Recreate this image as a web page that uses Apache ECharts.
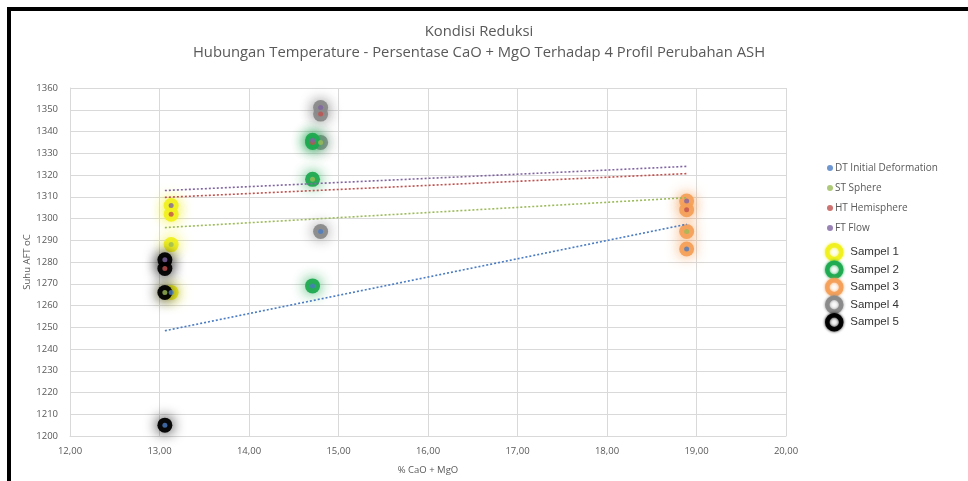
<!DOCTYPE html>
<html>
<head>
<meta charset="utf-8">
<script src="https://cdn.jsdelivr.net/npm/echarts@6/dist/echarts.min.js"></script>
<style>
  html, body { margin: 0; padding: 0; background: #fff; }
  #main { width: 968px; height: 481px; }
</style>
</head>
<body>
<div id="main"></div>
<script>
// % CaO + MgO per sampel
var sampleNames = ["Sampel 1", "Sampel 2", "Sampel 3", "Sampel 4", "Sampel 5"];
var sampleX = [13.13, 14.71, 18.89, 14.80, 13.06];
// suhu tiap profil (oC)
var dtVals = [1266, 1269, 1286, 1294, 1205];
var stVals = [1288, 1318, 1294, 1335, 1266];
var htVals = [1302, 1335, 1304, 1348, 1277];
var ftVals = [1306, 1336, 1308, 1351, 1281];

var profileNames = ["DT Initial Deformation", "ST Sphere", "HT Hemisphere", "FT Flow"];
var profileVals = [dtVals, stVals, htVals, ftVals];
var profileColors = ["#4a7cc4", "#9bbb59", "#c0504d", "#8064a2"];
var sampleColors = ["#f0f020", "#1faa50", "#f4a05a", "#8a8a8a", "#000000"];
var sampleZ = [2, 4, 2, 3, 5];

var yTicks = [1200, 1360, 10];
var xTicks = [12, 20, 1];

var chartDom = document.getElementById("main");
var myChart = echarts.init(chartDom);
var option;

// garis trend linear (seperti trendline excel)
function trend(vals) {
  var n = vals.length;
  var mx = 0, my = 0;
  for (var i = 0; i < n; i++) { mx += sampleX[i]; my += vals[i]; }
  mx /= n; my /= n;
  var sxx = 0, sxy = 0;
  for (var i = 0; i < n; i++) {
    sxx += (sampleX[i] - mx) * (sampleX[i] - mx);
    sxy += (sampleX[i] - mx) * (vals[i] - my);
  }
  var b = sxy / sxx, a = my - b * mx;
  var x0 = Math.min.apply(null, sampleX), x1 = Math.max.apply(null, sampleX);
  return [[x0, a + b * x0], [x1, a + b * x1]];
}

var series = [];

sampleNames.forEach(function (name, i) {
  series.push({
    name: name,
    type: "scatter",
    symbolSize: 15,
    z: sampleZ[i],
    data: profileVals.map(function (v) { return [sampleX[i], v[i]]; }),
    itemStyle: {
      color: sampleColors[i],
      shadowBlur: 14,
      shadowColor: sampleColors[i],
      opacity: 0.95,
    },
  });
});

profileNames.forEach(function (name, k) {
  series.push({
    name: name + " trend",
    type: "line",
    z: 6,
    silent: true,
    symbol: "none",
    data: trend(profileVals[k]),
    lineStyle: { color: profileColors[k], width: 1.6, type: [2, 2] },
  });
});

profileNames.forEach(function (name, k) {
  series.push({
    name: name,
    type: "scatter",
    symbolSize: 5,
    z: 10,
    data: sampleX.map(function (x, i) { return [x, profileVals[k][i]]; }),
    itemStyle: { color: profileColors[k] },
  });
});

option = {
  animation: false,
  color: profileColors,
  title: {
    text: "Kondisi Reduksi\nHubungan Temperature - Persentase CaO + MgO Terhadap 4 Profil Perubahan ASH",
    left: 474,
    textAlign: "center",
    top: 16,
    textStyle: {
      fontFamily: "Open Sans",
      fontSize: 14.8,
      fontWeight: "normal",
      color: "#595959",
      lineHeight: 21,
    },
  },
  legend: [
    {
      orient: "vertical",
      left: 822,
      top: 158,
      itemWidth: 6,
      itemHeight: 6,
      itemGap: 10,
      icon: "circle",
      data: profileNames,
      textStyle: { fontFamily: "Open Sans", fontSize: 10, color: "#595959", padding: [0, 0, 0, -3] },
    },
    {
      orient: "vertical",
      left: 820,
      top: 238,
      itemWidth: 14,
      itemHeight: 14,
      itemGap: -1,
      icon: "circle",
      data: sampleNames.map(function (n, i) {
        return {
          name: n,
          itemStyle: { color: "#ffffff", borderColor: sampleColors[i], borderWidth: 4.5, shadowBlur: 3, shadowColor: sampleColors[i] },
        };
      }),
      textStyle: { fontFamily: "Liberation Sans", fontSize: 11.5, color: "#333333", padding: [0, 0, 0, 4] },
    },
  ],
  grid: {
    left: 70,
    right: 182,
    top: 88,
    bottom: 45,
  },
  xAxis: {
    type: "value",
    min: xTicks[0],
    max: xTicks[1],
    interval: xTicks[2],
    name: "% CaO + MgO",
    nameLocation: "middle",
    nameGap: 29,
    nameTextStyle: { fontFamily: "Open Sans", fontSize: 9.5, color: "#595959" },
    axisLine: { lineStyle: { color: "#d9d9d9" } },
    axisTick: { show: false },
    axisLabel: {
      margin: 10,
      fontFamily: "Open Sans",
      fontSize: 9.5,
      color: "#595959",
      formatter: function (v) { return v.toFixed(2).replace(".", ","); },
    },
    splitLine: { show: true, lineStyle: { color: "#d9d9d9" } },
  },
  yAxis: {
    type: "value",
    min: yTicks[0],
    max: yTicks[1],
    interval: yTicks[2],
    name: "Suhu AFT oC",
    nameLocation: "middle",
    nameGap: 38,
    nameMoveOverlap: false,
    nameTextStyle: { fontFamily: "Open Sans", fontSize: 9.5, color: "#595959" },
    axisLine: { show: true, lineStyle: { color: "#d9d9d9" } },
    axisTick: { show: false },
    axisLabel: {
      margin: 12,
      fontFamily: "Open Sans",
      fontSize: 9.5,
      color: "#595959",
      formatter: function (v) { return String(v); },
    },
    splitLine: { lineStyle: { color: "#d9d9d9" } },
  },
  graphic: [
    { type: "rect", shape: { x: 9, y: 9, width: 970, height: 480 }, style: { fill: "none", stroke: "#000", lineWidth: 4 }, silent: true },
  ],
  series: series,
};

option && myChart.setOption(option);
</script>
</body>
</html>
